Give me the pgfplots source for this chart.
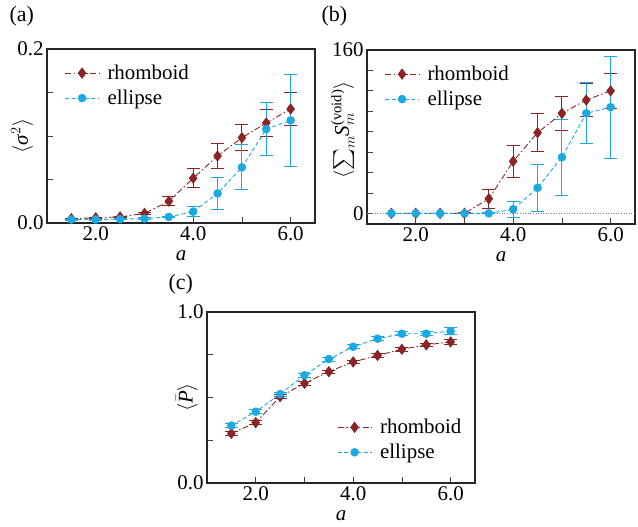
\documentclass[border=0pt]{standalone}
\usepackage{fontspec}
\setmainfont{Liberation Serif}
\usepackage{amsmath}
\usepackage{pgfplots}
\usepackage{pgfplotstable}
\pgfplotsset{compat=1.18}
\definecolor{rh}{HTML}{8B2424}
\definecolor{el}{HTML}{1CA8E0}

\pgfplotstableread{
x y e
1.5 0.005 0.0007
2.0 0.006 0.0008
2.5 0.007 0.0010
3.0 0.011 0.0015
3.5 0.025 0.0050
4.0 0.0515 0.011
4.5 0.077 0.014
5.0 0.098 0.015
5.5 0.115 0.016
6.0 0.131 0.019
}\arh
\pgfplotstableread{
x y e
1.5 0.004 0.0005
2.0 0.004 0.0005
2.5 0.0045 0.0006
3.0 0.005 0.0010
3.5 0.007 0.0010
4.0 0.013 0.006
4.5 0.034 0.018
5.0 0.064 0.026
5.5 0.108 0.030
6.0 0.118 0.053
}\ael
\pgfplotstableread{
x y e
1.5 0 0.3
2.0 0 0.3
2.5 0 0.3
3.0 0 0.5
3.5 14.3 9.4
4.0 51 16
4.5 79 18.5
5.0 98 17
5.5 111 16
6.0 120 17
}\brh
\pgfplotstableread{
x y e
1.5 0 0
2.0 0 0
2.5 0 0
3.0 0 0
3.5 0 0.5
4.0 4 8
4.5 25 23
5.0 55 37
5.5 98 30
6.0 104 50
}\bel
\pgfplotstableread{
x y e
1.5 0.290 0.010
2.0 0.353 0.010
2.5 0.505 0.010
3.0 0.583 0.010
3.5 0.651 0.010
4.0 0.708 0.010
4.5 0.746 0.010
5.0 0.782 0.010
5.5 0.808 0.010
6.0 0.825 0.012
}\crh
\pgfplotstableread{
x y e
1.5 0.336 0.012
2.0 0.417 0.012
2.5 0.520 0.012
3.0 0.630 0.012
3.5 0.725 0.012
4.0 0.797 0.012
4.5 0.844 0.012
5.0 0.873 0.012
5.5 0.873 0.012
6.0 0.888 0.020
}\cel

\pgfplotsset{
 myax/.style={
  scale only axis, width=268bp, height=174bp,
  xmin=1, xmax=6.5,
  xtick={2,3,4,5,6}, xticklabels={2.0,,4.0,,6.0},
  tick pos=left, tick align=inside, major tick length=6bp,
  axis line style={line width=1.2bp, black!85},
  every tick/.style={black!75, line width=0.8bp},
  /pgf/number format/assume math mode=true,
  tick label style={font=\fontsize{21}{25}\selectfont},
  label style={font=\fontsize{21}{25}\selectfont},
  legend style={font=\fontsize{21}{25}\selectfont, draw=none, fill=none, row sep=5bp, inner sep=0pt},
  legend cell align=left,
  legend image code/.code={\draw[mark repeat=2,mark phase=2] plot coordinates {(0bp,0bp)(17bp,0bp)(34bp,0bp)}; \path (40bp,0bp);},
  xlabel={\textit{a}},
  xlabel style={yshift=-3bp},
 },
 rhst/.style={rh, line width=0.9bp, dash pattern=on 6bp off 2.5bp on 1.5bp off 2.5bp,
   mark=diamond*, mark size=5bp, mark options={solid, fill=rh, draw=rh},
   error bars/.cd, y dir=both, y explicit,
   error bar style={rh, solid, line width=0.9bp},
   error mark options={rotate=90, mark size=6.5bp, rh, solid, line width=0.9bp}},
 elst/.style={el, line width=0.9bp, dash pattern=on 4bp off 2.5bp,
   mark=*, mark size=3.8bp, mark options={solid, fill=el, draw=el},
   error bars/.cd, y dir=both, y explicit,
   error bar style={el, solid, line width=0.9bp},
   error mark options={rotate=90, mark size=6.5bp, el, solid, line width=0.9bp}},
}

\begin{document}
\begin{tikzpicture}
\useasboundingbox (0,0) rectangle (638bp,-527bp);
\node[anchor=west, font=\fontsize{22}{26}\selectfont] at (6bp,-16bp) {(a)};
\node[anchor=west, font=\fontsize{22}{26}\selectfont] at (318bp,-16bp) {(b)};
\node[anchor=west, font=\fontsize{22}{26}\selectfont] at (165bp,-284bp) {(c)};

% (a)
\begin{axis}[myax, at={(47bp,-223bp)}, anchor=south west,
  ymin=0, ymax=0.2, ytick={0,0.05,0.1,0.15,0.2}, yticklabels={0.0,,,,0.2},
  ylabel={$\langle$\textit{σ}$^{2}\rangle$},
  ylabel style={at={(axis description cs:-0.093,0.5)}, anchor=center},
  legend style={at={(axis description cs:0.065,0.92)}, anchor=north west}]
\addplot+[rhst] table[x=x, y=y, y error=e] {\arh};
\addlegendentry{rhomboid}
\addplot+[elst] table[x=x, y=y, y error=e] {\ael};
\addlegendentry{ellipse}
\end{axis}

% (b)
\begin{axis}[myax, at={(367bp,-224bp)}, anchor=south west,
  ymin=-10.4, ymax=160, ytick={0,20,...,160}, yticklabels={0,,,,,,,,160},
  ylabel={$\langle\textstyle\sum_{m}$\textit{S}$_{m}^{\text{(void)}}\rangle$},
  ylabel style={at={(axis description cs:-0.09,0.54)}, anchor=center},
  legend style={at={(axis description cs:0.065,0.92)}, anchor=north west}]
\addplot[gray, dotted, line width=0.6bp, forget plot] coordinates {(1,0) (6.5,0)};
\addplot+[rhst] table[x=x, y=y, y error=e] {\brh};
\addlegendentry{rhomboid}
\addplot+[elst] table[x=x, y=y, y error=e] {\bel};
\addlegendentry{ellipse}
\end{axis}

% (c)
\begin{axis}[myax, at={(207bp,-483bp)}, anchor=south west, height=171bp,
  ymin=0, ymax=1, ytick={0,0.25,0.5,0.75,1}, yticklabels={0.0,,,,1.0},
  ylabel={$\langle\bar{\text{\itshape P}}\rangle$},
  ylabel style={at={(axis description cs:-0.075,0.5)}, anchor=center},
  legend style={at={(axis description cs:0.485,0.12)}, anchor=south west}]
\addplot+[rhst] table[x=x, y=y, y error=e] {\crh};
\addlegendentry{rhomboid}
\addplot+[elst] table[x=x, y=y, y error=e] {\cel};
\addlegendentry{ellipse}
\end{axis}
\end{tikzpicture}
\end{document}
